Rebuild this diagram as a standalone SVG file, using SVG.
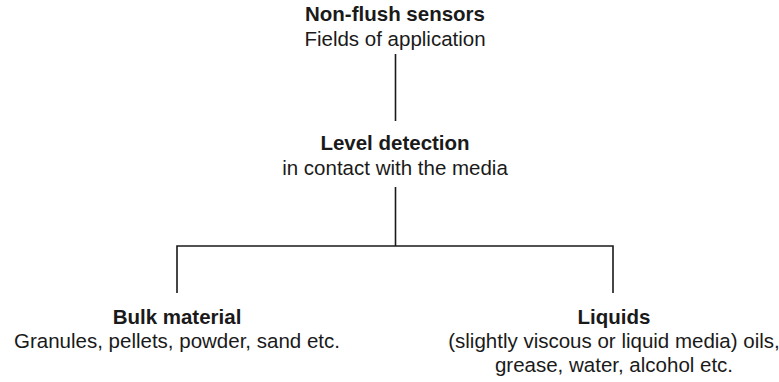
<svg xmlns="http://www.w3.org/2000/svg" width="779" height="382" viewBox="0 0 779 382">
<style>
text{font-family:"Liberation Sans",Arial,Helvetica,sans-serif;font-size:20.5px;fill:#1a1a1a;text-anchor:middle}
.b{font-weight:bold}
.c{stroke:#1a1a1a;stroke-width:1.6;fill:none}
</style>
<rect width="779" height="382" fill="#fff"/>
<g id="connectors">
<line class="c" x1="395.5" y1="54" x2="395.5" y2="121"/>
<line class="c" x1="395.5" y1="187" x2="395.5" y2="246"/>
<polyline class="c" points="177,293 177,246 613,246 613,293"/>
</g>
<g id="node-root">
<text class="b" x="395" y="21">Non-flush sensors</text>
<text x="395" y="46">Fields of application</text>
</g>
<g id="node-level">
<text class="b" x="395" y="150">Level detection</text>
<text x="395" y="175">in contact with the media</text>
</g>
<g id="node-bulk">
<text class="b" x="177" y="324">Bulk material</text>
<text x="177" y="348">Granules, pellets, powder, sand etc.</text>
</g>
<g id="node-liquids">
<text class="b" x="614" y="324">Liquids</text>
<text x="614" y="348">(slightly viscous or liquid media) oils,</text>
<text x="614" y="372">grease, water, alcohol etc.</text>
</g>
</svg>
